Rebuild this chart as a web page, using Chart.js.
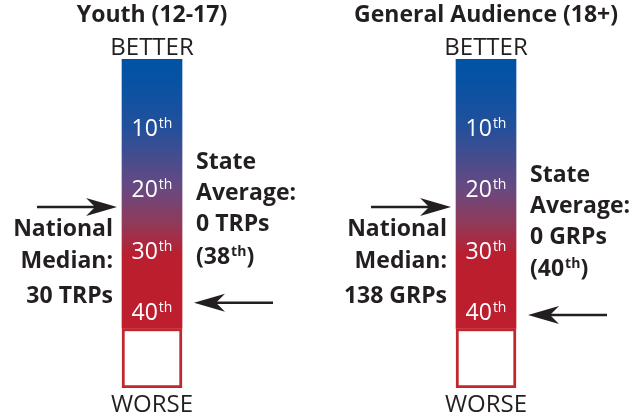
<!DOCTYPE html>
<html>
<head>
<meta charset="utf-8">
<script src="https://cdn.jsdelivr.net/npm/chart.js@4"></script>
<style>
    html, body { margin: 0; padding: 0; background: #fff; }
    #wrap { width: 643px; height: 419px; }
</style>
</head>
<body>
<div id="wrap"><canvas id="myChart" width="643" height="419"></canvas></div>
<script>
// 資料
var panelTitles = ['Youth (12-17)', 'General Audience (18+)'];
var panelPos = [0, 1];
var rankTicks = ['10', '20', '30', '40'];
var rankTickValues = [10, 20, 30, 40];
var rankTop = -1.7;
var rankedEnd = [42.2, 42.2];  // 漸層色塊結束
var rankBottom = 51.9;         // 白色框底
var medianRank = [22.4, 22.4];
var medianLabel = ['30 TRPs', '138 GRPs'];
var stateRank = [38, 40];
var stateLabel = ['0 TRPs', '0 GRPs'];

var FONT = "'Open Sans', 'DejaVu Sans', sans-serif";
var INK = '#231f20';

function fontStr(weight, size) {
    return weight + ' ' + size + 'px ' + FONT;
}

// 數字 + 上標 th
function drawOrdinal(ctx, num, x, y, size, weight, color, align, prefix, suffix) {
    prefix = prefix || '';
    suffix = suffix || '';
    var supSize = Math.round(size * 0.6);
    ctx.font = fontStr(weight, size);
    var w1 = ctx.measureText(prefix + num).width;
    var w3 = ctx.measureText(suffix).width;
    ctx.font = fontStr(weight, supSize);
    var w2 = ctx.measureText('th').width;
    var total = w1 + w2 + w3 + 1;
    var left = align === 'center' ? x - total / 2 : (align === 'right' ? x - total : x);
    ctx.fillStyle = color;
    ctx.textAlign = 'left';
    ctx.textBaseline = 'alphabetic';
    var base = y + size * 0.36;
    ctx.font = fontStr(weight, size);
    ctx.fillText(prefix + num, left, base);
    ctx.font = fontStr(weight, supSize);
    ctx.fillText('th', left + w1 + 1, base - size * 0.36);
    if (suffix) {
        ctx.font = fontStr(weight, size);
        ctx.fillText(suffix, left + w1 + w2 + 1, base);
    }
}

function drawArrow(ctx, x0, x1, y) {
    // 由 x0 畫到 x1，箭頭在 x1
    var dir = x1 > x0 ? 1 : -1;
    ctx.save();
    ctx.strokeStyle = INK;
    ctx.fillStyle = INK;
    ctx.lineWidth = 2.6;
    ctx.beginPath();
    ctx.moveTo(x0, y);
    ctx.lineTo(x1 - dir * 20, y);
    ctx.stroke();
    ctx.beginPath();
    ctx.moveTo(x1, y);
    ctx.lineTo(x1 - dir * 31, y - 9);
    ctx.lineTo(x1 - dir * 22, y);
    ctx.lineTo(x1 - dir * 31, y + 9);
    ctx.closePath();
    ctx.fill();
    ctx.restore();
}

var labelPlugin = {
    id: 'labelPlugin',
    afterDatasetsDraw: function (chart) {
        var ctx = chart.ctx;
        var xs = chart.scales.x;
        var ys = chart.scales.y;
        var meta = chart.getDatasetMeta(0);
        ctx.save();
        panelPos.forEach(function (p, i) {
            var bar = meta.data[i];
            var cx = xs.getPixelForValue(p);
            var half = bar.width / 2;
            var left = cx - half, right = cx + half;

            ctx.fillStyle = INK;
            ctx.textAlign = 'center';
            ctx.textBaseline = 'middle';
            ctx.font = fontStr('bold', 23);
            ctx.fillText(panelTitles[i], cx, 15);
            ctx.font = fontStr('500', 24);
            ctx.fillText('BETTER', cx, 48);
            ctx.fillText('WORSE', cx, 405);

            // 排名標籤
            rankTicks.forEach(function (t, j) {
                var ty = ys.getPixelForValue(rankTickValues[j]) - 3;
                drawOrdinal(ctx, t, cx, ty, 23, 'normal', '#ffffff', 'center');
            });

            // 全國中位數
            var my = ys.getPixelForValue(medianRank[i]);
            drawArrow(ctx, left - 85, left - 5, my);
            ctx.fillStyle = INK;
            ctx.textAlign = 'right';
            ctx.textBaseline = 'middle';
            ctx.font = fontStr('bold', 23);
            ctx.fillText('National', left - 9, my + 23);
            ctx.fillText('Median:', left - 9, my + 55);
            ctx.fillText(medianLabel[i], left - 9, my + 90);

            // 州平均
            var sy = ys.getPixelForValue(stateRank[i]);
            drawArrow(ctx, right + 91, right + 12, sy);
            var tx = right + 14;
            var b = sy - 47;
            ctx.fillStyle = INK;
            ctx.textAlign = 'left';
            ctx.textBaseline = 'middle';
            ctx.font = fontStr('bold', 23);
            ctx.fillText('State', tx, b - 93);
            ctx.fillText('Average:', tx, b - 62);
            ctx.fillText(stateLabel[i], tx, b - 31);
            drawOrdinal(ctx, String(stateRank[i]), tx, b, 23, 'bold', INK, 'left', '(', ')');
        });
        ctx.restore();
    }
};

function gradientFill(context) {
    var chart = context.chart;
    if (!chart.chartArea) return '#be1e2d';
    var ys = chart.scales.y;
    var y0 = ys.getPixelForValue(rankTop);
    var y1 = ys.getPixelForValue(rankedEnd[0]);
    var g = chart.ctx.createLinearGradient(0, y0, 0, y1);
    g.addColorStop(0, '#0052a4');
    g.addColorStop(0.1, '#0a52a3');
    g.addColorStop(0.25, '#22509c');
    g.addColorStop(0.48, '#684980');
    g.addColorStop(0.61, '#903a5a');
    g.addColorStop(0.73, '#bb1e2e');
    g.addColorStop(1, '#be1e2d');
    return g;
}

var ctx = document.getElementById('myChart').getContext('2d');
var myChart = new Chart(ctx, {
    type: 'bar',
    data: {
        datasets: [
            {
                label: 'ranked',
                data: panelPos.map(function (p, i) { return { x: p, y: [rankTop, rankedEnd[i]] }; }),
                backgroundColor: gradientFill,
                borderWidth: 0,
                barThickness: 60,
                grouped: false
            },
            {
                label: 'unranked',
                data: panelPos.map(function (p, i) { return { x: p, y: [rankedEnd[i], rankBottom] }; }),
                backgroundColor: '#ffffff',
                borderColor: '#c1272d',
                borderWidth: 3,
                borderSkipped: false,
                barThickness: 60,
                grouped: false
            }
        ]
    },
    options: {
        responsive: false,
        animation: false,
        devicePixelRatio: 1,
        layout: { padding: { top: 59, bottom: 31, left: 0, right: 0 } },
        scales: {
            x: { type: 'linear', min: -0.4551, max: 1.470, offset: false, display: false },
            y: { type: 'linear', min: rankTop, max: rankBottom, reverse: true, display: false }
        },
        plugins: {
            legend: { display: false },
            tooltip: { enabled: false }
        }
    },
    plugins: [labelPlugin]
});
</script>
</body>
</html>
